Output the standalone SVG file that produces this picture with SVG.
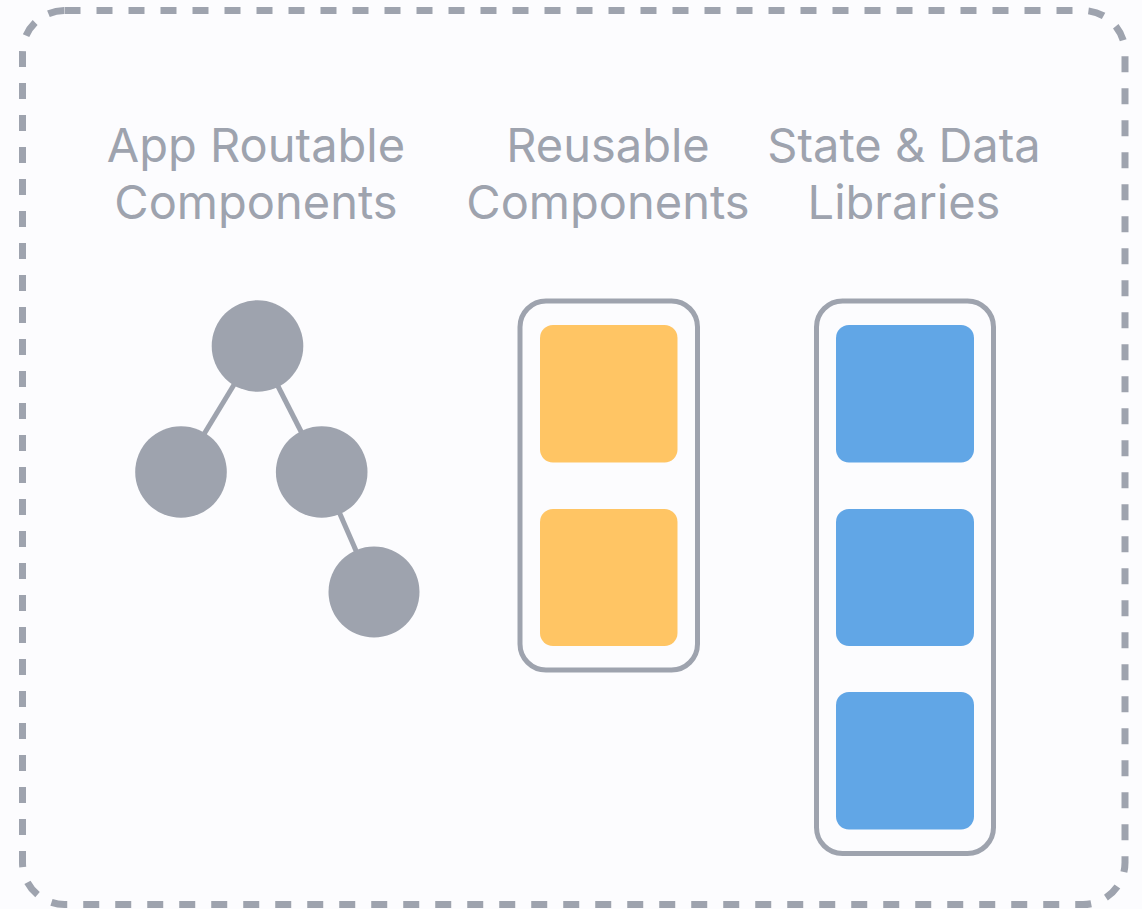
<svg xmlns="http://www.w3.org/2000/svg" width="1142" height="909" viewBox="0 0 1142 909">
<style>
.bg{fill:#FCFCFE}
.frame{fill:none;stroke:#9EA3AE;stroke-width:7;stroke-dasharray:16 16}
.lbl{font-family:Inter,"Liberation Sans",sans-serif;font-size:47px;fill:#9EA3AE;text-anchor:middle}
.box{fill:none;stroke:#9EA3AE;stroke-width:5}
.node{fill:#9EA3AE}
.edge{stroke:#9EA3AE;stroke-width:5}
.y{fill:#FFC564}
.b{fill:#61A6E6}
</style>
<rect class="bg" x="0" y="0" width="1142" height="909"/>
<rect class="frame" x="22.5" y="10.5" width="1102.5" height="894" rx="42"/>
<g id="labels">
<text class="lbl" x="256" y="162">App Routable</text>
<text class="lbl" x="256" y="219">Components</text>
<text class="lbl" x="608" y="162">Reusable</text>
<text class="lbl" x="608" y="219">Components</text>
<text class="lbl" x="904" y="162">State &amp; Data</text>
<text class="lbl" x="904" y="219">Libraries</text>
</g>
<g id="connectors">
<line class="edge" x1="257.5" y1="346" x2="181" y2="472"/>
<line class="edge" x1="257.5" y1="346" x2="321.7" y2="472"/>
<line class="edge" x1="321.7" y1="472" x2="374" y2="592"/>
</g>
<g id="tree-root"><circle class="node" cx="257.5" cy="346" r="45.8"/></g>
<g id="tree-left"><circle class="node" cx="181" cy="472" r="45.8"/></g>
<g id="tree-right"><circle class="node" cx="321.7" cy="472" r="45.8"/></g>
<g id="tree-leaf"><circle class="node" cx="374" cy="592" r="45.5"/></g>
<g id="reusable">
<rect class="box" x="520" y="301" width="177.5" height="369" rx="26"/>
<rect class="y" x="540" y="325" width="137.5" height="137.5" rx="13"/>
<rect class="y" x="540" y="509" width="137.5" height="137" rx="13"/>
</g>
<g id="state">
<rect class="box" x="816.5" y="301" width="177" height="552.5" rx="26"/>
<rect class="b" x="836" y="325" width="138" height="137.5" rx="13"/>
<rect class="b" x="836" y="509" width="138" height="137" rx="13"/>
<rect class="b" x="836" y="692" width="138" height="137.5" rx="13"/>
</g>
</svg>
